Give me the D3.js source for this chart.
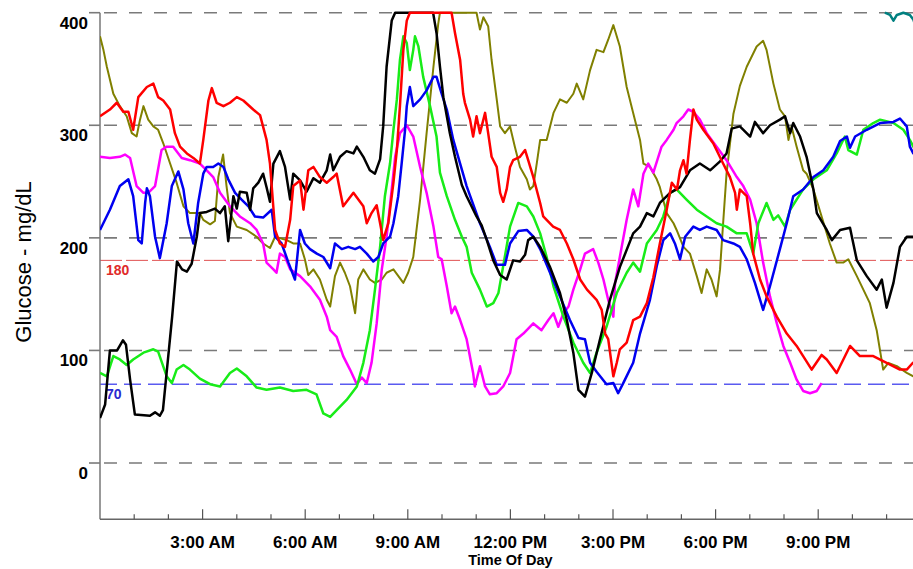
<!DOCTYPE html>
<html>
<head>
<meta charset="utf-8">
<script src="https://cdn.jsdelivr.net/npm/d3@7"></script>
<style>
  html, body { margin: 0; padding: 0; background: #fff; }
  svg { display: block; font-family: "Liberation Sans", Arial, sans-serif; }
</style>
</head>
<body>
<div id="chart"></div>
<script>
// === Data: [hour of day, glucose mg/dL] per trace ===
const blackDay = [[0,40],[0.15,52],[0.29,100],[0.5,100],[0.67,109],[0.76,105],[0.88,74],[1.02,43],[1.46,42],[1.61,45],[1.75,42],[1.84,47],[2.11,130],[2.25,179],[2.4,172],[2.54,170],[2.68,177],[2.83,201],[2.92,222],[3.12,223],[3.36,226],[3.51,222],[3.65,228],[3.75,197],[3.9,237],[4,226],[4.09,241],[4.29,240],[4.39,225],[4.48,244],[4.63,249],[4.77,257],[4.87,245],[4.97,232],[5.07,266],[5.26,277],[5.41,263],[5.56,234],[5.65,257],[5.85,251],[6.04,241],[6.24,253],[6.43,249],[6.63,260],[6.73,274],[6.82,260],[7.02,272],[7.21,277],[7.41,275],[7.51,281],[7.7,272],[7.89,260],[8.04,257],[8.19,270],[8.28,299],[8.38,352],[8.53,393],[8.63,400],[9.74,400],[9.84,382],[9.94,352],[10.04,325],[10.23,293],[10.38,272],[10.58,247],[10.72,237],[11.01,219],[11.16,211],[11.31,198],[11.5,180],[11.7,167],[11.89,163],[12.08,180],[12.28,179],[12.43,185],[12.52,198],[12.67,201],[12.87,192],[13.16,174],[13.45,151],[13.65,127],[13.84,98],[13.99,65],[14.18,59],[14.38,80],[14.62,110],[14.91,145],[15.2,174],[15.59,204],[15.79,210],[15.99,222],[16.18,219],[16.37,231],[16.67,240],[16.96,245],[17.25,260],[17.54,266],[17.84,260],[18.13,268],[18.32,275],[18.47,297],[18.71,299],[19.01,290],[19.15,303],[19.39,293],[19.59,300],[19.88,305],[20.03,308],[20.18,293],[20.27,302],[20.47,290],[20.66,272],[20.86,243],[20.96,222],[21.25,207],[21.4,198],[21.64,207],[21.93,209],[22.13,180],[22.42,166],[22.71,154],[22.86,163],[23,138],[23.2,160],[23.39,192],[23.59,201],[23.77,201],[23.98,201]];

const redDay = [[0,308],[0.29,314],[0.49,320],[0.68,312],[0.83,312],[0.97,296],[1.12,325],[1.37,334],[1.56,337],[1.7,325],[1.85,322],[2.05,314],[2.19,293],[2.34,281],[2.54,275],[2.73,271],[2.92,266],[3.02,287],[3.17,322],[3.27,333],[3.41,320],[3.61,317],[3.8,320],[4,325],[4.19,322],[4.48,314],[4.68,309],[4.87,287],[4.97,266],[5.12,207],[5.26,195],[5.41,192],[5.56,216],[5.65,246],[5.85,251],[5.95,225],[6.09,260],[6.24,263],[6.43,254],[6.63,249],[6.82,254],[6.92,257],[7.11,228],[7.41,240],[7.7,228],[7.8,213],[7.94,222],[8.09,229],[8.19,213],[8.28,198],[8.43,213],[8.58,249],[8.68,278],[8.77,317],[8.87,367],[8.97,393],[9.06,400],[10.28,400],[10.38,382],[10.53,358],[10.62,328],[10.67,320],[10.82,305],[10.91,290],[11.01,308],[11.11,293],[11.26,311],[11.35,293],[11.45,272],[11.6,263],[11.7,240],[11.79,232],[11.89,243],[11.99,263],[12.08,269],[12.28,272],[12.43,278],[12.52,269],[12.67,254],[12.87,231],[12.96,219],[13.25,210],[13.45,207],[13.65,195],[13.84,181],[14.04,163],[14.24,154],[14.52,145],[14.67,136],[14.77,115],[14.86,110],[15.01,77],[15.11,89],[15.2,101],[15.4,107],[15.59,127],[15.79,130],[15.99,142],[16.18,165],[16.37,195],[16.57,225],[16.72,249],[16.87,243],[16.96,260],[17.06,269],[17.15,257],[17.25,287],[17.35,314],[17.45,305],[17.64,296],[17.93,284],[18.22,266],[18.42,254],[18.57,240],[18.62,225],[18.71,243],[18.91,237],[19.01,213],[19.1,186],[19.3,163],[19.49,148],[19.79,130],[20.08,115],[20.37,104],[20.56,95],[20.81,83],[21.1,96],[21.25,92],[21.54,80],[21.93,104],[22.22,95],[22.61,95],[23,89],[23.39,83],[23.59,83],[23.77,89],[23.98,90]];

const oliveDay = [[0,379],[0.1,367],[0.2,352],[0.39,328],[0.58,317],[0.78,308],[0.93,293],[1.07,290],[1.17,305],[1.27,317],[1.41,305],[1.56,299],[1.7,296],[1.85,284],[2.05,266],[2.24,249],[2.44,228],[2.63,222],[2.92,222],[3.02,216],[3.22,212],[3.36,215],[3.46,254],[3.6,274],[3.7,246],[3.8,222],[4,210],[4.29,207],[4.58,201],[4.77,195],[4.97,191],[5.12,201],[5.46,198],[5.65,195],[5.85,195],[5.99,181],[6.09,167],[6.24,172],[6.43,163],[6.63,145],[6.73,139],[6.87,166],[7.02,178],[7.16,169],[7.31,157],[7.46,133],[7.55,163],[7.7,172],[7.89,163],[8.04,160],[8.24,163],[8.38,169],[8.58,172],[8.87,160],[9.01,169],[9.16,183],[9.36,234],[9.55,293],[9.75,352],[9.89,390],[9.94,400],[11.01,400],[11.11,385],[11.21,396],[11.35,388],[11.45,358],[11.6,323],[11.7,299],[11.84,293],[11.99,299],[12.13,281],[12.28,263],[12.48,252],[12.57,243],[12.67,246],[12.77,266],[12.87,287],[13.06,287],[13.26,311],[13.45,323],[13.65,320],[13.84,328],[13.94,337],[14.13,323],[14.33,349],[14.52,367],[14.72,365],[14.86,376],[15.01,389],[15.2,370],[15.4,334],[15.59,311],[15.79,287],[15.89,266],[16.08,263],[16.28,252],[16.37,245],[16.57,222],[16.77,213],[16.86,207],[17.06,192],[17.25,186],[17.45,166],[17.59,151],[17.74,172],[17.88,163],[18.03,148],[18.13,172],[18.22,213],[18.32,257],[18.52,310],[18.71,335],[18.91,352],[19.2,370],[19.39,375],[19.49,367],[19.69,337],[19.88,314],[20.03,308],[20.13,287],[20.22,299],[20.37,281],[20.56,260],[20.66,257],[20.86,243],[21.1,219],[21.34,195],[21.54,178],[21.73,178],[21.88,181],[22.13,166],[22.32,154],[22.51,142],[22.71,118],[22.9,83],[23.05,89],[23.3,86],[23.59,80],[23.78,77],[23.98,76]];

const greenDay = [[0,80],[0.2,77],[0.39,95],[0.58,92],[0.78,87],[0.97,92],[1.27,98],[1.56,101],[1.7,99],[1.95,77],[2.1,71],[2.24,83],[2.44,87],[2.63,83],[2.92,75],[3.22,70],[3.51,68],[3.8,80],[4,84],[4.29,77],[4.58,67],[4.87,65],[5.26,67],[5.65,64],[6.04,65],[6.33,61],[6.53,44],[6.73,41],[6.92,47],[7.21,56],[7.51,68],[7.7,89],[7.89,118],[8.04,154],[8.19,192],[8.33,237],[8.48,266],[8.58,296],[8.68,323],[8.77,358],[8.87,379],[8.97,373],[9.06,349],[9.16,367],[9.21,379],[9.31,370],[9.45,343],[9.65,317],[9.84,290],[9.94,258],[10.14,237],[10.38,216],[10.58,201],[10.72,192],[10.87,169],[11.11,154],[11.31,139],[11.5,142],[11.65,151],[11.79,175],[11.99,210],[12.23,231],[12.48,228],[12.67,219],[12.87,204],[13.06,183],[13.26,157],[13.55,130],[13.84,107],[14.13,89],[14.33,80],[14.52,98],[14.81,121],[15.11,151],[15.4,169],[15.59,178],[15.79,170],[15.99,195],[16.28,207],[16.47,219],[16.67,240],[16.86,243],[17.15,234],[17.45,225],[17.74,219],[18.03,213],[18.32,210],[18.62,204],[18.91,204],[19.1,186],[19.25,213],[19.49,231],[19.69,216],[19.83,220],[20.03,210],[20.18,225],[20.56,243],[20.86,252],[21.25,260],[21.54,275],[21.78,290],[21.88,278],[22.13,274],[22.32,296],[22.61,302],[22.81,305],[23.2,302],[23.49,296],[23.68,287],[23.78,281],[23.98,275]];

const blueDay = [[0,207],[0.29,225],[0.58,246],[0.83,252],[0.97,237],[1.12,198],[1.22,195],[1.32,231],[1.37,244],[1.46,237],[1.61,201],[1.75,182],[1.95,213],[2.1,246],[2.29,259],[2.44,243],[2.58,213],[2.73,195],[2.87,231],[3.02,257],[3.12,263],[3.31,263],[3.46,266],[3.61,263],[3.75,252],[3.95,240],[4.14,234],[4.34,228],[4.53,219],[4.77,218],[5.02,225],[5.12,201],[5.31,195],[5.51,178],[5.7,163],[5.85,207],[5.99,195],[6.14,190],[6.34,186],[6.53,183],[6.73,173],[6.87,195],[7.07,190],[7.26,192],[7.46,190],[7.6,192],[7.8,186],[7.99,179],[8.14,183],[8.28,195],[8.48,201],[8.58,213],[8.72,237],[8.82,266],[8.92,296],[8.97,317],[9.06,334],[9.16,317],[9.36,323],[9.55,331],[9.75,343],[9.84,343],[9.99,328],[10.14,314],[10.33,287],[10.53,266],[10.72,246],[11.11,213],[11.4,192],[11.6,176],[11.84,176],[11.99,195],[12.23,206],[12.48,207],[12.67,201],[12.87,190],[13.16,169],[13.45,148],[13.74,127],[13.99,111],[14.18,110],[14.33,89],[14.52,81],[14.81,70],[15.01,71],[15.15,62],[15.3,71],[15.59,89],[15.79,115],[16.08,145],[16.28,175],[16.47,198],[16.67,204],[16.81,195],[16.96,181],[17.11,201],[17.35,210],[17.54,207],[17.74,210],[18.03,207],[18.22,198],[18.52,195],[18.71,192],[18.91,181],[19.15,160],[19.39,136],[19.59,157],[19.88,190],[20.08,213],[20.27,237],[20.56,243],[20.86,254],[21.15,260],[21.44,272],[21.64,286],[21.84,290],[21.93,280],[22.08,290],[22.42,296],[22.81,302],[23.2,303],[23.39,306],[23.59,299],[23.68,281],[23.78,275],[23.98,272]];

const magentaDay = [[0,272],[0.29,271],[0.58,272],[0.73,274],[0.88,271],[1.07,246],[1.27,240],[1.41,240],[1.61,246],[1.8,278],[1.95,281],[2.14,281],[2.39,271],[2.63,269],[2.92,266],[3.12,260],[3.31,254],[3.51,240],[3.8,228],[4.09,219],[4.39,213],[4.58,207],[4.77,195],[4.87,178],[5.07,172],[5.16,169],[5.26,186],[5.41,183],[5.56,172],[5.85,166],[6.14,157],[6.43,145],[6.63,130],[6.73,118],[6.92,112],[7.11,95],[7.31,83],[7.51,70],[7.65,76],[7.8,71],[7.94,89],[8.09,124],[8.24,172],[8.38,201],[8.53,243],[8.63,272],[8.77,293],[8.97,300],[9.16,290],[9.36,263],[9.55,240],[9.75,210],[9.89,183],[9.99,181],[10.14,157],[10.28,133],[10.38,139],[10.53,127],[10.72,110],[10.91,80],[10.96,68],[11.11,86],[11.26,68],[11.4,61],[11.6,62],[11.79,68],[11.99,80],[12.18,110],[12.38,115],[12.67,124],[12.91,118],[13.11,127],[13.26,133],[13.4,121],[13.55,133],[13.7,139],[13.84,154],[14.04,172],[14.18,186],[14.42,190],[14.57,178],[14.72,163],[14.86,145],[15.01,130],[15.06,160],[15.2,183],[15.4,216],[15.59,243],[15.74,228],[15.89,257],[16.03,266],[16.18,258],[16.42,281],[16.57,287],[16.77,296],[16.86,302],[17.06,308],[17.2,314],[17.35,312],[17.54,305],[17.74,293],[18.03,281],[18.32,269],[18.62,254],[18.81,246],[19.01,234],[19.2,213],[19.39,178],[19.59,148],[19.79,124],[19.98,104],[20.18,89],[20.37,74],[20.56,64],[20.76,62],[20.96,64],[21.1,71]];

const tealDay = [[22.95,400],[23.1,398],[23.2,393],[23.3,398],[23.49,400],[23.68,398],[23.78,394],[23.88,385]];

const series = [
    { name: 'olive', color: '#808000', width: 2, data: oliveDay },
    { name: 'magenta', color: '#ff00ff', width: 2.5, data: magentaDay },
    { name: 'green', color: '#18ec18', width: 2.5, data: greenDay },
    { name: 'blue', color: '#0000f0', width: 2.5, data: blueDay },
    { name: 'black', color: '#000000', width: 2.5, data: blackDay },
    { name: 'red', color: '#ff0000', width: 2.5, data: redDay },
    { name: 'teal', color: '#008080', width: 2.5, data: tealDay }
];

const gridValues = [0, 100, 200, 300, 400];
const hourTicks = [3, 6, 9, 12, 15, 18, 21];
const hourLabels = ['3:00 AM', '6:00 AM', '9:00 AM', '12:00 PM', '3:00 PM', '6:00 PM', '9:00 PM'];
const targets = [
    { value: 180, label: '180', line: '#e05050', text: '#e02a2a', dash: '22,4', width: 1 },
    { value: 70, label: '70', line: '#5a5af0', text: '#2a2ad0', dash: '17,7', width: 1.5 }
];

// === Layout ===
const width = 913, height = 569;
const x = d3.scaleLinear().domain([0, 24]).range([100, 920.8]);
const y = d3.scaleLinear().domain([-50, 400]).range([519.3, 12.7]);

const svg = d3.select('#chart')
    .append('svg')
    .attr('width', width)
    .attr('height', height);

svg.append('rect').attr('width', width).attr('height', height).attr('fill', '#fff');

// Horizontal grid (dashed) with short solid tick at the axis
const grid = svg.append('g');
gridValues.forEach(v => {
    grid.append('line')
        .attr('x1', x(0)).attr('x2', width)
        .attr('y1', y(v)).attr('y2', y(v))
        .attr('stroke', '#7a7a7a')
        .attr('stroke-width', 1.6)
        .attr('stroke-dasharray', '13,12')
        .attr('stroke-dashoffset', -4);
    grid.append('line')
        .attr('x1', 89).attr('x2', x(0))
        .attr('y1', y(v)).attr('y2', y(v))
        .attr('stroke', '#7a7a7a')
        .attr('stroke-width', 1.6);
    grid.append('text')
        .attr('x', 88)
        .attr('y', y(v) + 16)
        .attr('text-anchor', 'end')
        .attr('font-size', 17)
        .attr('font-weight', 'bold')
        .text(v);
});

// Target range lines
targets.forEach(t => {
    svg.append('line')
        .attr('x1', x(0)).attr('x2', width)
        .attr('y1', y(t.value)).attr('y2', y(t.value))
        .attr('stroke', t.line)
        .attr('stroke-width', t.width)
        .attr('stroke-dasharray', t.dash);
    svg.append('text')
        .attr('x', 106)
        .attr('y', y(t.value) + 15)
        .attr('font-size', 14)
        .attr('font-weight', 'bold')
        .attr('fill', t.text)
        .text(t.label);
});

// Axes frame
svg.append('line')
    .attr('x1', x(0)).attr('x2', x(0))
    .attr('y1', y(400)).attr('y2', y(-50))
    .attr('stroke', '#777').attr('stroke-width', 1.5);
svg.append('line')
    .attr('x1', x(0)).attr('x2', width)
    .attr('y1', y(-50)).attr('y2', y(-50))
    .attr('stroke', '#666').attr('stroke-width', 1.5);

// Hour ticks pointing up into the plot
const xAxis = svg.append('g');
d3.range(1, 24).forEach(h => {
    const major = h % 3 === 0;
    xAxis.append('line')
        .attr('x1', x(h)).attr('x2', x(h))
        .attr('y1', y(-50)).attr('y2', y(-50) - (major ? 10 : 5))
        .attr('stroke', '#555').attr('stroke-width', 1.2);
});
hourTicks.forEach((h, i) => {
    xAxis.append('text')
        .attr('x', x(h))
        .attr('y', 548)
        .attr('text-anchor', 'middle')
        .attr('font-size', 17)
        .attr('font-weight', 'bold')
        .text(hourLabels[i]);
});

svg.append('text')
    .attr('x', x(12))
    .attr('y', 565)
    .attr('text-anchor', 'middle')
    .attr('font-size', 14.5)
    .attr('font-weight', 'bold')
    .text('Time Of Day');

svg.append('text')
    .attr('transform', 'translate(23,262) rotate(-90)')
    .attr('text-anchor', 'middle')
    .attr('dominant-baseline', 'central')
    .attr('font-size', 22)
    .text('Glucose - mg/dL');

// === Glucose traces ===
svg.append('clipPath').attr('id', 'plot-clip')
    .append('rect')
    .attr('x', x(0)).attr('y', y(400) - 3)
    .attr('width', x(24) - x(0)).attr('height', y(-50) - y(400) + 3);

const line = d3.line()
    .x(d => x(d[0]))
    .y(d => y(d[1]));

svg.append('g')
    .attr('clip-path', 'url(#plot-clip)')
    .selectAll('path')
    .data(series)
    .enter()
    .append('path')
    .attr('d', d => line(d.data))
    .attr('fill', 'none')
    .attr('stroke', d => d.color)
    .attr('stroke-width', d => d.width)
    .attr('stroke-linejoin', 'round');
</script>
</body>
</html>
